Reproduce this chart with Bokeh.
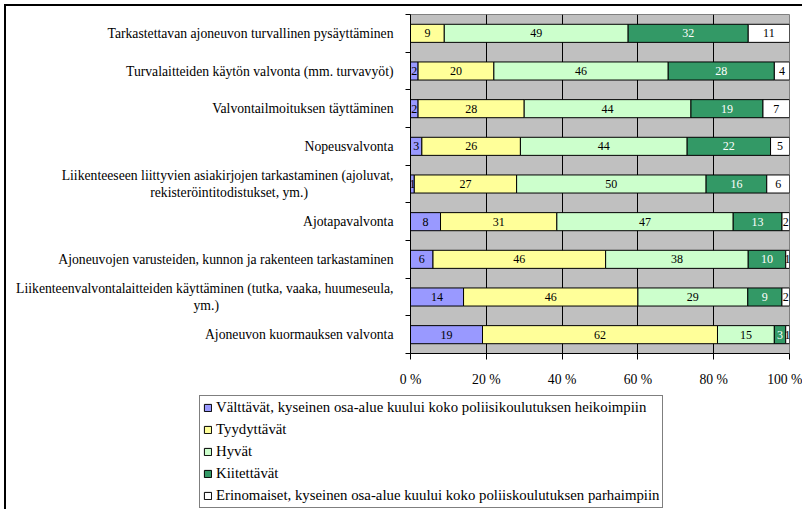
from bokeh.plotting import figure
from bokeh.models import ColumnDataSource, Legend, LegendItem, FixedTicker, Range1d
from bokeh.core.properties import value
from bokeh.embed import file_html
from bokeh.resources import INLINE

# ---------------- data ----------------
categories = [
    "Tarkastettavan ajoneuvon turvallinen pysäyttäminen",
    "Turvalaitteiden käytön valvonta (mm. turvavyöt)",
    "Valvontailmoituksen täyttäminen",
    "Nopeusvalvonta",
    "Liikenteeseen liittyvien asiakirjojen tarkastaminen (ajoluvat,\nrekisteröintitodistukset, ym.)",
    "Ajotapavalvonta",
    "Ajoneuvojen varusteiden, kunnon ja rakenteen tarkastaminen",
    "Liikenteenvalvontalaitteiden käyttäminen (tutka, vaaka, huumeseula,\nym.)",
    "Ajoneuvon kuormauksen valvonta",
]
valttavat = [0, 2, 2, 3, 1, 8, 6, 14, 19]
tyydyttavat = [9, 20, 28, 26, 27, 31, 46, 46, 62]
hyvat = [49, 46, 44, 44, 50, 47, 38, 29, 15]
kiitettavat = [32, 28, 19, 22, 16, 13, 10, 9, 3]
erinomaiset = [11, 4, 7, 5, 6, 2, 1, 2, 1]
series_names = [
    "Välttävät, kyseinen osa-alue kuului koko poliisikoulutuksen heikoimpiin",
    "Tyydyttävät",
    "Hyvät",
    "Kiitettävät",
    "Erinomaiset, kyseinen osa-alue kuului koko poliiskoulutuksen parhaimpiin",
]
x_ticks = [0, 20, 40, 60, 80, 100]
x_tick_labels = ["0 %", "20 %", "40 %", "60 %", "80 %", "100 %"]

# ---------------- styles ----------------
series = [valttavat, tyydyttavat, hyvat, kiitettavat, erinomaiset]
colors = ["#9999FF", "#FFFF99", "#CCFFCC", "#339966", "#FFFFFF"]
text_colors = ["black", "black", "black", "white", "black"]
FONT_NAME = "Liberation Serif"
FS = "13.7px"
FS_LEG = "14.8px"
NBSP = "\u00a0"
# trailing no-break spaces that visually centre a wrapped second line under the first
second_line_pad = {4: 25, 7: 51}
W, H_MAIN, H_LEG = 802, 395, 114

n = len(categories)
ys = [n - 1 - i + 0.5 for i in range(n)]
totals = [sum(s[i] for s in series) for i in range(n)]


def tick_text(i, cat):
    lines = cat.split("\n")
    if len(lines) > 1:
        lines[1] = lines[1] + NBSP * second_line_pad.get(i, 0)
    return "\n".join(lines)


p = figure(width=W, height=H_MAIN, output_backend="svg", toolbar_location=None,
           x_range=Range1d(0, 100), y_range=Range1d(0, n),
           min_border_left=410, min_border_right=13, min_border_top=14,
           min_border_bottom=42,
           styles={"box-shadow": "inset 4px 4px 0 0 white, inset 6px 6px 0 0 black"})
p.background_fill_color = "#C0C0C0"
p.border_fill_alpha = 0
p.outline_line_color = "#808080"
p.outline_line_width = 1

# grid
p.ygrid.visible = False
p.xgrid.ticker = FixedTicker(ticks=x_ticks)
p.xgrid.grid_line_color = "black"
p.xgrid.grid_line_width = 1

# x axis
p.xaxis.ticker = FixedTicker(ticks=x_ticks)
p.xaxis.major_label_overrides = {t: l for t, l in zip(x_ticks, x_tick_labels)}
p.xaxis.major_tick_out = 6
p.xaxis.major_tick_in = 0
p.xaxis.minor_tick_line_color = None
p.xaxis.axis_line_color = "black"
p.xaxis.major_tick_line_color = "black"
p.xaxis.major_label_text_font = FONT_NAME
p.xaxis.major_label_text_font_size = FS
p.xaxis.major_label_text_color = "black"
p.xaxis.major_label_standoff = 12

# y axis: labels at the category centres, tick marks at the boundaries
p.yaxis.ticker = FixedTicker(ticks=ys, minor_ticks=list(range(n + 1)))
p.yaxis.major_label_overrides = {y: tick_text(i, c) for i, (y, c) in enumerate(zip(ys, categories))}
p.yaxis.major_tick_out = 0
p.yaxis.major_tick_in = 0
p.yaxis.major_tick_line_color = None
p.yaxis.minor_tick_out = 5
p.yaxis.minor_tick_in = 0
p.yaxis.minor_tick_line_color = "black"
p.yaxis.axis_line_color = "black"
p.yaxis.major_label_standoff = 12
p.yaxis.major_label_text_font = FONT_NAME
p.yaxis.major_label_text_font_size = FS
p.yaxis.major_label_text_color = "black"
p.yaxis.major_label_text_line_height = 1.15

# stacked bars
sources = []
cum = [0.0] * n
for k, s in enumerate(series):
    left = [cum[i] / totals[i] * 100 for i in range(n)]
    right = [(cum[i] + s[i]) / totals[i] * 100 for i in range(n)]
    cum = [cum[i] + s[i] for i in range(n)]
    src = ColumnDataSource(dict(y=ys, left=left, right=right,
                                mid=[(a + b) / 2 for a, b in zip(left, right)],
                                txt=[str(v) for v in s]))
    sources.append(src)
    p.hbar(y="y", left="left", right="right", height=0.48, source=src,
           fill_color=colors[k], line_color="black", line_width=1)
    p.text(x="mid", y="y", text="txt", source=src, text_align="center",
           text_baseline="middle", text_font=value(FONT_NAME), text_font_size="12px",
           text_color=text_colors[k])

# ---------------- legend (separate strip below the chart) ----------------
# the strip's ranges keep its proxy bars fully out of view; only the legend shows
q = figure(width=W, height=H_LEG, output_backend="svg", toolbar_location=None,
           x_range=Range1d(-1003, -1002), y_range=Range1d(-1003, -1002),
           x_axis_type=None, y_axis_type=None,
           min_border_left=0, min_border_right=0, min_border_top=0, min_border_bottom=0,
           styles={"box-shadow": "inset 4px 0 0 0 white, inset 6px 0 0 0 black"})
q.grid.visible = False
q.outline_line_color = None
q.background_fill_alpha = 0
q.border_fill_alpha = 0
items = []
for k, name in enumerate(series_names):
    r = q.hbar(y="y", left="left", right="right", height=0.48, source=sources[k],
               fill_color=colors[k], line_color="black", line_width=1)
    items.append(LegendItem(label=name, renderers=[r]))

legend = Legend(items=items, location=(199, 1), orientation="vertical",
                border_line_color="black", border_line_width=1,
                background_fill_color="white", background_fill_alpha=1,
                padding=3, margin=0, spacing=5, label_height=16,
                glyph_width=9, glyph_height=9, label_standoff=4,
                label_text_font=FONT_NAME, label_text_font_size=FS_LEG,
                label_text_color="black")
q.add_layout(legend, "center")

open("out.html", "w").write(file_html([p, q], INLINE))
